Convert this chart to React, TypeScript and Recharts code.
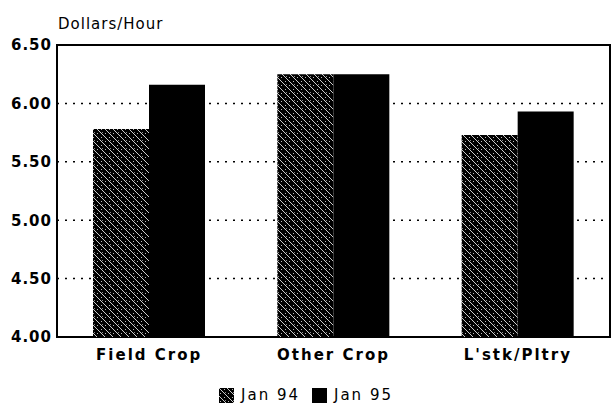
import React from 'react';
import {
  BarChart,
  Bar,
  XAxis,
  YAxis,
  CartesianGrid,
  ReferenceArea
} from 'recharts';

const categories = ['Field Crop', 'Other Crop', "L'stk/Pltry"];
const jan94 = [5.78, 6.25, 5.73];
const jan95 = [6.16, 6.25, 5.93];
const yTicks = [4.0, 4.5, 5.0, 5.5, 6.0, 6.5];

const data = categories.map((name, i) => ({ name, jan94: jan94[i], jan95: jan95[i] }));

const series = [
  { key: 'jan94', label: 'Jan 94', fill: 'url(#hatch94)' },
  { key: 'jan95', label: 'Jan 95', fill: '#000000' }
];

function LegendBox() {
  return (
    <div style={{ display: 'flex', justifyContent: 'center', alignItems: 'center', gap: 12 }}>
      {series.map(s => (
        <div key={s.key} style={{ display: 'flex', alignItems: 'center' }}>
          <svg width={15} height={15} style={{ marginRight: 7 }}>
            <rect x={0} y={0} width={15} height={15} fill={s.fill} />
          </svg>
          <span style={{ fontFamily: 'DejaVu Sans', fontSize: 15, letterSpacing: 2, color: '#000' }}>
            {s.label}
          </span>
        </div>
      ))}
    </div>
  );
}

export default function App() {
  return (
    <div style={{ position: 'absolute', left: 0, top: 0, width: 612, height: 417, background: '#fff' }}>
      <svg width={0} height={0} style={{ position: 'absolute' }}>
        <defs>
          <pattern id="hatch94" patternUnits="userSpaceOnUse" width={8} height={8}>
            <rect x={0} y={0} width={8} height={8} fill="#000" />
            <line x1={0} y1={0} x2={8} y2={8} stroke="#fff" strokeWidth={0.8} />
            <rect x={5} y={1} width={1} height={1} fill="#bbb" />
            <rect x={1} y={5} width={1} height={1} fill="#bbb" />
            <rect x={6} y={4} width={1} height={1} fill="#888" />
          </pattern>
        </defs>
      </svg>
      <div style={{ position: 'absolute', left: 58, top: 15, fontFamily: 'DejaVu Sans', fontSize: 15, letterSpacing: 1, color: '#000' }}>
        Dollars/Hour
      </div>
      <BarChart
        width={612}
        height={417}
        data={data}
        margin={{ top: 45, right: 2, left: 0, bottom: 50 }}
        barCategoryGap={36}
        barGap={0}
      >
        <CartesianGrid vertical={false} stroke="#000" strokeDasharray="2 6" strokeWidth={1.5} />
        <XAxis
          dataKey="name"
          height={30}
          axisLine={false}
          tickLine={false}
          tickSize={0}
          tickMargin={12}
          tick={{ fill: '#000', fontFamily: 'DejaVu Sans', fontWeight: 700, fontSize: 15, letterSpacing: 2 }}
        />
        <YAxis
          width={57}
          domain={[4, 6.5]}
          ticks={yTicks}
          axisLine={false}
          tickLine={false}
          tickSize={0}
          tickMargin={5}
          tickFormatter={(v: number) => v.toFixed(2)}
          tick={{ fill: '#000', fontFamily: 'DejaVu Sans', fontWeight: 700, fontSize: 15, letterSpacing: 1 }}
        />
        {series.map(s => (
          <Bar key={s.key} dataKey={s.key} name={s.label} fill={s.fill} isAnimationActive={false} />
        ))}
        <ReferenceArea y1={4} y2={6.5} fill="none" stroke="#000" strokeWidth={2} ifOverflow="visible" />
      </BarChart>
      <div style={{ position: 'absolute', top: 386, left: 0, width: 612 }}>
        <LegendBox />
      </div>
    </div>
  );
}
